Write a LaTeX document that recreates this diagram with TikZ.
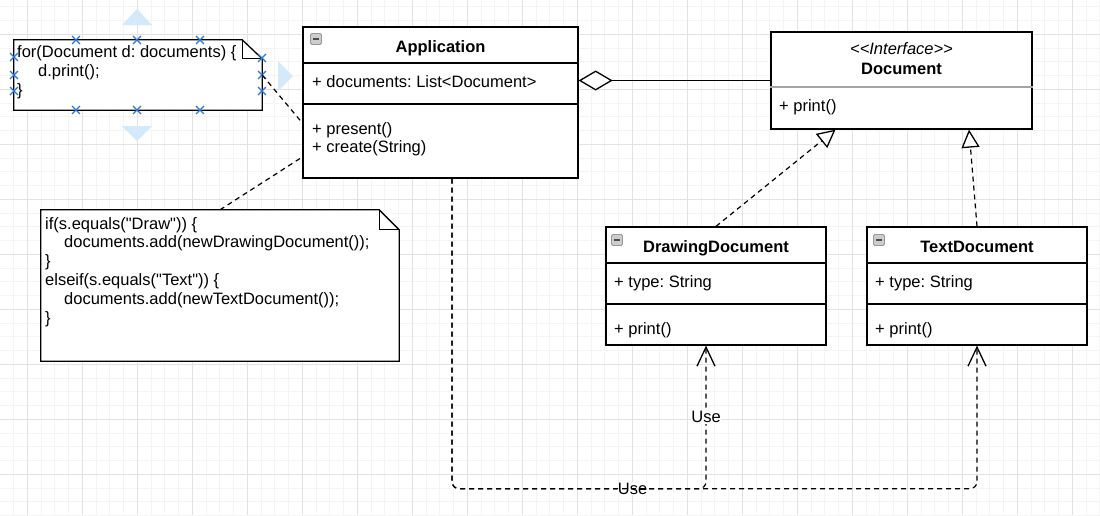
\documentclass[tikz,border=0pt]{standalone}
\usepackage{fontspec}
\setmainfont{Liberation Sans}
\usetikzlibrary{arrows.meta,shapes.misc}
\definecolor{gridmin}{RGB}{244,244,244}
\definecolor{gridmaj}{RGB}{226,226,226}
\definecolor{selblue}{RGB}{40,120,215}
\definecolor{hintblue}{RGB}{212,234,250}
\definecolor{sepgray}{RGB}{165,165,165}
\definecolor{icofill}{RGB}{205,205,205}
\definecolor{icoline}{RGB}{150,150,150}
\newcommand{\sq}{\XeTeXglyph\XeTeXcharglyph34\relax}
\frenchspacing
\begin{document}
\frenchspacing
\begin{tikzpicture}[x=1pt,y=-1pt,
  every node/.style={font=\fontsize{16.5}{18.8}\selectfont},
  umlline/.style={line width=1.3pt, draw=black},
  classbox/.style={draw=black, line width=1.3pt, fill=white, inner sep=0pt},
  notebase/.style={inner sep=0pt},
  txt/.style={anchor=base west, inner sep=0pt},
  ttl/.style={anchor=base, inner sep=0pt, font=\fontsize{16.5}{18.8}\selectfont\bfseries},
  stereo/.style={anchor=base, inner sep=0pt, font=\fontsize{16.5}{18.8}\selectfont\itshape},
  dashline/.style={line width=1.2pt, dash pattern=on 5pt off 4pt},
  realize/.style={dashline, -{Triangle[length=18pt, width=18pt, fill=white, line width=1.3pt]}},
  usedep/.style={dashline, -{Straight Barb[length=19pt, width=18pt, line width=1.3pt]}},
  aggr/.style={umlline, {Diamond[length=34pt, width=20pt, fill=white, line width=1.3pt]}-},
  lbl/.style={fill=white, inner sep=1pt, font=\fontsize{16.5}{18.8}\selectfont},
  icon/.style={draw=icoline, fill=icofill, line width=0.8pt, rounded corners=1.5pt, minimum size=11pt, inner sep=0pt},
  handle/.style={cross out, draw=selblue, line width=1.4pt, minimum size=6.5pt, inner sep=0pt},
  hint/.style={fill=hintblue, draw=none}]

% background and grid
\fill[white] (0,0) rectangle (1100,515);
\useasboundingbox (0,0) rectangle (1100,515);
\foreach \k in {1,...,80} {\draw[gridmin, line width=0.8pt] ({-0.2+\k*13.75},0) -- ({-0.2+\k*13.75},515);}
\foreach \k in {0,...,37} {\draw[gridmin, line width=0.8pt] (0,{6.8+\k*13.75}) -- (1100,{6.8+\k*13.75});}
\foreach \k in {0,...,19} {\draw[gridmaj, line width=0.8pt] ({27.3+\k*55},0) -- ({27.3+\k*55},515);}
\foreach \k in {0,...,9} {\draw[gridmaj, line width=0.8pt] (0,{34.3+\k*55}) -- (1100,{34.3+\k*55});}

% selection hint arrows around the first note
\fill[hint] (137,9) -- (152,25) -- (122,25) -- cycle;
\fill[hint] (137,141) -- (152,126) -- (122,126) -- cycle;
\fill[hint] (293,76) -- (278,61) -- (278,91) -- cycle;

% class boxes
\node[classbox, minimum width=275pt, minimum height=151pt] (app) at (440.5,102.5) {};
\node[classbox, minimum width=261pt, minimum height=97pt] (doc) at (901.5,80.5) {};
\node[classbox, minimum width=220pt, minimum height=118pt] (dd) at (716,286) {};
\node[classbox, minimum width=220pt, minimum height=118pt] (td) at (977,286) {};

% separators
\draw[umlline] (app.west |- 0,63) -- (app.east |- 0,63);
\draw[umlline] (app.west |- 0,104) -- (app.east |- 0,104);
\draw[sepgray, line width=1.2pt] (doc.west |- 0,87) -- (doc.east |- 0,87);
\draw[umlline] (dd.west |- 0,263) -- (dd.east |- 0,263);
\draw[umlline] (dd.west |- 0,304) -- (dd.east |- 0,304);
\draw[umlline] (td.west |- 0,263) -- (td.east |- 0,263);
\draw[umlline] (td.west |- 0,304) -- (td.east |- 0,304);

% collapse icons
\node[icon] (appico) at (316,39) {};
\draw[black!70, line width=1.2pt] ([xshift=-3pt]appico.center) -- ([xshift=3pt]appico.center);
\node[icon] (ddico) at (617,240) {};
\draw[black!70, line width=1.2pt] ([xshift=-3pt]ddico.center) -- ([xshift=3pt]ddico.center);
\node[icon] (tdico) at (879,240) {};
\draw[black!70, line width=1.2pt] ([xshift=-3pt]tdico.center) -- ([xshift=3pt]tdico.center);

% class texts
\node[ttl] (appt) at (440.5,52.7) {Application};
\node[txt] (appa) at (312,87.2) {+ documents: List<Document>};
\node[txt] (appm1) at (312,134) {+ present()};
\node[txt] (appm2) at (312,152.8) {+ create(String)};

\node[stereo] (docs) at (901.5,54) {<\kern0pt<Interface>\kern0pt>};
\node[ttl] (doct) at (901.5,74) {Document};
\node[txt] (docm) at (779,111) {+ print()};

\node[ttl] (ddt) at (716,252) {DrawingDocument};
\node[txt] (dda) at (614,287.5) {+ type: String};
\node[txt] (ddm) at (614,334) {+ print()};

\node[ttl] (tdt) at (977,252) {TextDocument};
\node[txt] (tda) at (875,287.5) {+ type: String};
\node[txt] (tdm) at (875,334) {+ print()};

% notes
\node[notebase, minimum width=248pt, minimum height=70pt] (n1) at (138,75) {};
\draw[umlline, fill=white] (n1.south west) -- (n1.north west) -- ([xshift=-20pt]n1.north east) -- ([yshift=-19pt]n1.north east) -- (n1.south east) -- cycle;
\draw[umlline] ([xshift=-20pt]n1.north east) |- ([yshift=-19pt]n1.north east);
\node[txt] (n1a) at (17,57.5) {for(Document d: documents) \{};
\node[txt] (n1b) at (38,76.3) {d.print();};
\node[txt] (n1c) at (17,95.1) {\}};

\node[notebase, minimum width=358pt, minimum height=151pt] (n2) at (220,285.5) {};
\draw[umlline, fill=white] (n2.south west) -- (n2.north west) -- ([xshift=-20pt]n2.north east) -- ([yshift=-20pt]n2.north east) -- (n2.south east) -- cycle;
\draw[umlline] ([xshift=-20pt]n2.north east) |- ([yshift=-20pt]n2.north east);
\node[txt] (n2a) at (45,229) {if(s.equals(\sq Draw\sq)) \{};
\node[txt] (n2b) at (64,247.8) {documents.add(newDrawingDocument());};
\node[txt] (n2c) at (45,266.6) {\}};
\node[txt] (n2d) at (45,285.4) {elseif(s.equals(\sq Text\sq)) \{};
\node[txt] (n2e) at (64,304.2) {documents.add(newTextDocument());};
\node[txt] (n2f) at (45,323) {\}};

% selection handles on the first note
\foreach \p [count=\i] in {(76,40),(137,40),(200,40),(76,110),(137,110),(200,110),(14,57),(14,75),(14,91),(262,58),(262,75),(262,91)}
  {\node[handle] (h\i) at \p {};}

% connectors
\draw[dashline] (n1.east) -- ([yshift=-20.5pt]app.west);
\draw[dashline] (n2.north) -- ([yshift=-54.5pt]app.west);
\draw[aggr] (app.east |- doc.west) -- (doc.west);
\draw[realize] (dd.north) -- ([xshift=-66pt]doc.south);
\draw[realize] (td.north) -- ([xshift=67.5pt]doc.south);
\draw[usedep, rounded corners=7pt] ([xshift=11.5pt]app.south) -- ++(0,310) -| (td.south)
  node[lbl, pos=0.172] (use1) {Use};
\draw[usedep, rounded corners=7pt] ([xshift=11.5pt]app.south) -- ++(0,310) -| ([xshift=-10pt]dd.south)
  node[lbl, pos=0.75] (use2) {Use};
\end{tikzpicture}
\end{document}
